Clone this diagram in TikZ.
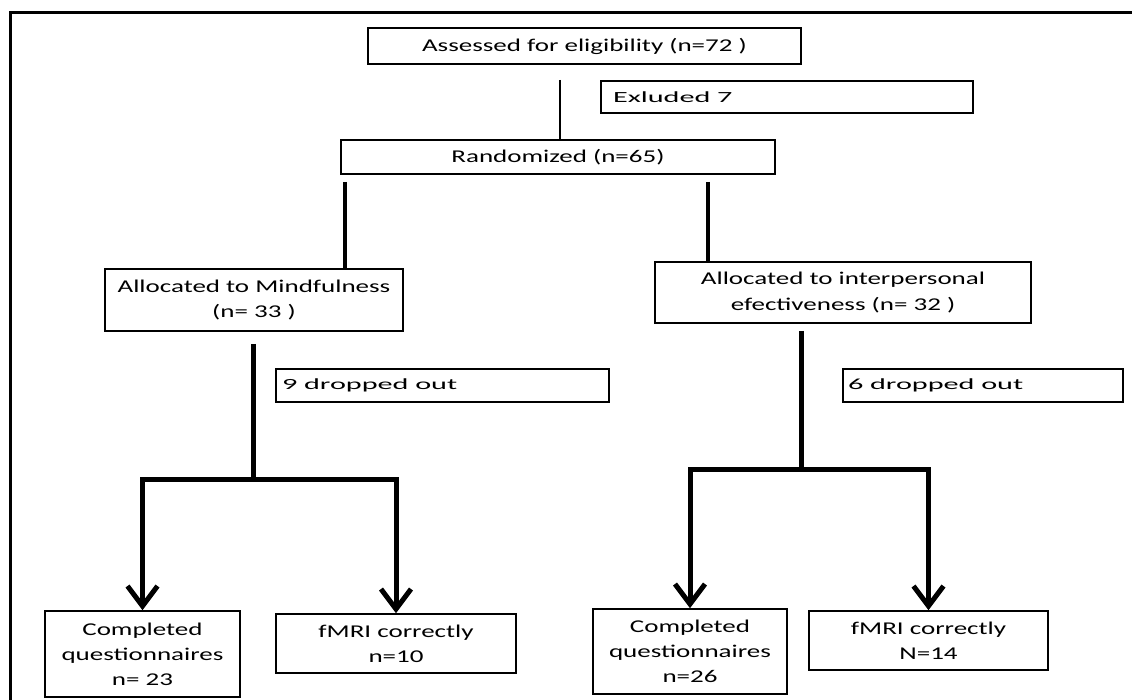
\documentclass[tikz,border=0pt]{standalone}
\usepackage{fontspec}
\usetikzlibrary{arrows.meta}
\newfontfamily\bigf[FakeStretch=1.5]{Carlito}
\newcommand{\wideTxt}[1]{\scalebox{1.3}[1]{#1}}
\begin{document}
\begin{tikzpicture}[x=1pt,y=-1pt,
  box/.style={draw=black, line width=1.6pt, inner sep=0pt, align=center,
    font=\bigf\fontsize{18}{25}\selectfont},
  notebox/.style={draw=black, line width=1.6pt, inner ysep=0pt, align=left,
    font=\bigf\fontsize{15.5}{20}\selectfont},
  thinline/.style={line width=1.8pt},
  medline/.style={line width=4pt},
  thickline/.style={line width=5pt},
  thickarrow/.style={line width=5pt, line join=miter,
    -{Straight Barb[length=20pt,width=30pt]}}]
\useasboundingbox (0,0) rectangle (1132,700);
\fill[white] (0,0) rectangle (1132,700);
% frame
\draw[line width=3pt] (10,702) -- (10,13) -- (1134,13);
% boxes
\node[box, minimum width=433pt, minimum height=36pt] (assess) at (584.5,46) {Assessed for eligibility (n=72 )};
\node[notebox, inner xsep=12pt, text width=348pt, minimum height=32pt] (excl) at (787,97) {\wideTxt{Exluded 7}};
\node[box, minimum width=434pt, minimum height=34pt] (rand) at (558,157) {Randomized (n=65)};
\node[box, minimum width=298pt, minimum height=62pt] (mind) at (254,300) {Allocated to Mindfulness\\(n= 33 )};
\node[box, minimum width=376pt, minimum height=61pt] (interp) at (843,292.5) {Allocated to interpersonal\\efectiveness (n= 32 )};
\node[notebox, inner xsep=6pt, text width=321pt, minimum height=33pt] (drop1) at (442.5,385.5) {\wideTxt{9 dropped out}};
\node[notebox, inner xsep=5pt, text width=270pt, minimum height=33pt] (drop2) at (983,385.5) {\wideTxt{6 dropped out}};
\node[box, minimum width=195pt, minimum height=86pt] (comp1) at (142.5,654) {Completed\\questionnaires\\n= 23};
\node[box, minimum width=240pt, minimum height=59pt] (fmri1) at (396,643.5) {fMRI correctly\\n=10};
\node[box, minimum width=194pt, minimum height=85pt] (comp2) at (690,651.5) {Completed\\questionnaires\\n=26};
\node[box, minimum width=239pt, minimum height=59pt] (fmri2) at (928.5,640.5) {fMRI correctly\\N=14};
% connectors
\coordinate (a1) at (560,80);
\draw[thinline] (a1) -- (a1 |- rand.north);
\coordinate (r1) at (345,182);
\coordinate (r2) at (708,182);
\draw[medline] (r1) -- (r1 |- mind.north);
\draw[medline] (r2) -- (r2 |- interp.north);
\coordinate (m1) at (253,344);
\coordinate (b1) at (253,479);
\draw[thickline] (m1) -- (b1);
\draw[thickarrow] (b1) -| (comp1.north);
\draw[thickarrow] (b1) -| (fmri1.north);
\coordinate (m2) at (801,331);
\coordinate (b2) at (801,469);
\draw[thickline] (m2) -- (b2);
\draw[thickarrow] (b2) -| (comp2.north);
\draw[thickarrow] (b2) -| (fmri2.north);
\end{tikzpicture}
\end{document}
